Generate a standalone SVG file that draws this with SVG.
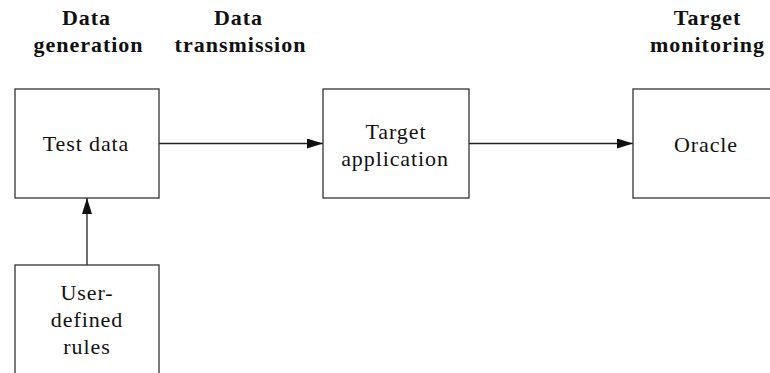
<svg xmlns="http://www.w3.org/2000/svg" width="770" height="373" viewBox="0 0 770 373">
<style>
.box{fill:#fff;stroke:#333;stroke-width:1.3}
.lbl{font-family:"Liberation Serif","Times New Roman",serif;font-size:22px;letter-spacing:0.9px;fill:#111;text-anchor:middle}
.hdr{font-family:"Liberation Serif","Times New Roman",serif;font-size:22px;font-weight:bold;letter-spacing:1px;fill:#111;text-anchor:middle}
.conn{stroke:#222;stroke-width:1.3;fill:none;marker-end:url(#ah)}
</style>
<defs>
<marker id="ah" markerUnits="userSpaceOnUse" markerWidth="17" markerHeight="11" refX="16" refY="5" orient="auto">
<path d="M0,0 L16,5 L0,10 z" fill="#111"/>
</marker>
</defs>
<rect width="770" height="373" fill="#fff"/>
<g id="headers">
<text class="hdr" x="86.5" y="25">Data</text>
<text class="hdr" x="88.5" y="52">generation</text>
<text class="hdr" x="238.5" y="25">Data</text>
<text class="hdr" x="240.5" y="52">transmission</text>
<text class="hdr" x="707.5" y="25">Target</text>
<text class="hdr" x="707.5" y="52">monitoring</text>
</g>
<g id="connectors">
<line class="conn" x1="159" y1="143.5" x2="323" y2="143.5"/>
<line class="conn" x1="469" y1="143.5" x2="633" y2="143.5"/>
<line class="conn" x1="87" y1="265" x2="87" y2="198"/>
</g>
<g id="test-data">
<rect class="box" x="15" y="89" width="144" height="109"/>
<text class="lbl" x="86" y="151">Test data</text>
</g>
<g id="target-application">
<rect class="box" x="323" y="89" width="146" height="109"/>
<text class="lbl" x="396" y="139">Target</text>
<text class="lbl" x="395" y="166">application</text>
</g>
<g id="oracle">
<rect class="box" x="633" y="89" width="144" height="109"/>
<text class="lbl" x="706" y="151.5">Oracle</text>
</g>
<g id="user-defined-rules">
<rect class="box" x="15" y="265" width="144" height="112"/>
<text class="lbl" x="87" y="300">User-</text>
<text class="lbl" x="87" y="327">defined</text>
<text class="lbl" x="87" y="354">rules</text>
</g>
</svg>
